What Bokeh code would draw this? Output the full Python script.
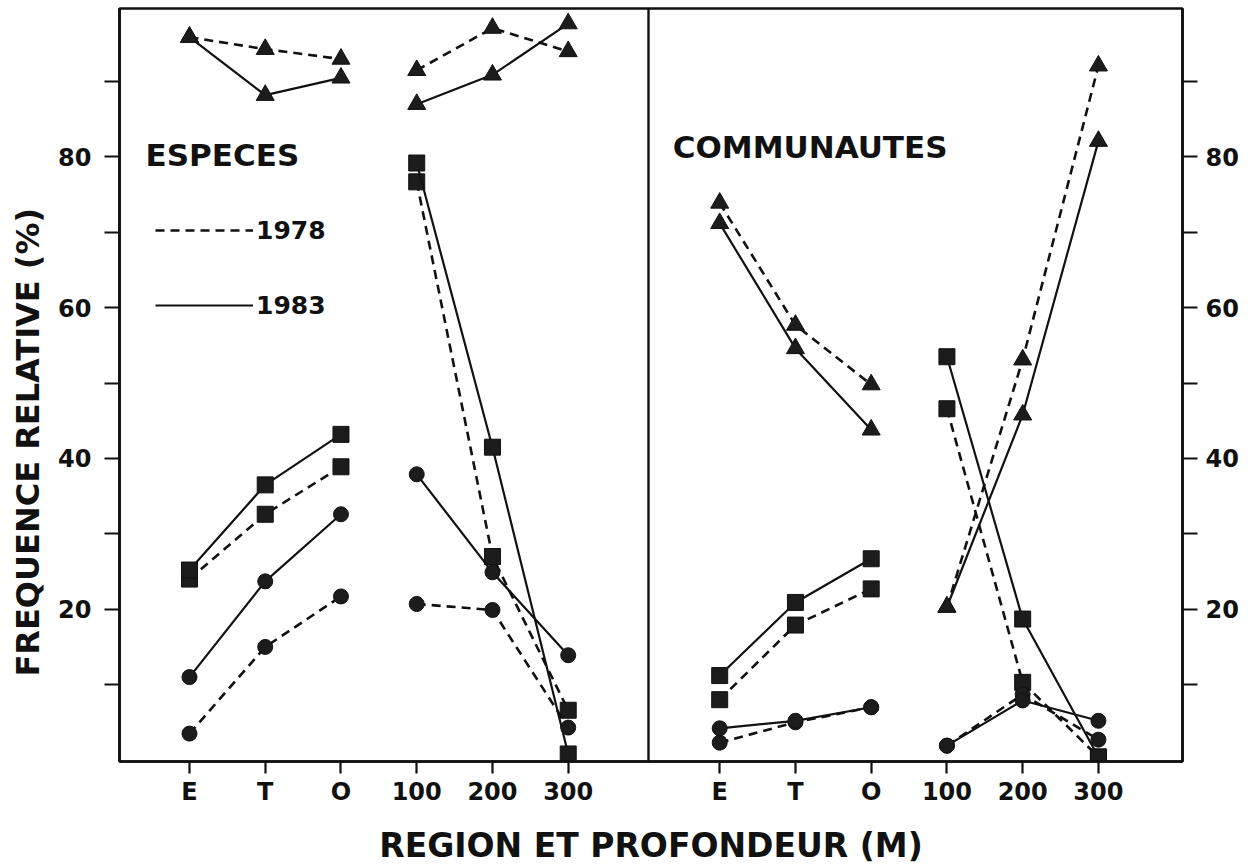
import math
from bokeh.plotting import figure
from bokeh.models import (FixedTicker, LinearAxis, Span, Label, Legend, LegendItem, Range1d, Title)
from bokeh.embed import file_html
from bokeh.resources import INLINE

# ---------------- data ----------------
categories = ["E", "T", "O", "100", "200", "300"]
panels = ["ESPECES", "COMMUNAUTES"]
years = ["1978", "1983"]

especes_tri_1978 = [95.9, 94.3, 93.0, 91.5, 97.1, 94.0]
especes_tri_1983 = [95.9, 88.2, 90.5, 87.0, 90.9, 97.7]
especes_sq_1978 = [24.0, 32.6, 38.9, 76.7, 27.0, 6.6]
especes_sq_1983 = [25.2, 36.5, 43.2, 79.2, 41.5, 0.8]
especes_ci_1978 = [3.5, 15.0, 21.7, 20.7, 19.9, 4.3]
especes_ci_1983 = [11.0, 23.7, 32.6, 37.9, 24.9, 13.9]

communautes_tri_1978 = [73.9, 57.7, 49.8, 20.3, 53.1, 92.1]
communautes_tri_1983 = [71.2, 54.6, 43.8, 20.3, 45.8, 82.1]
communautes_sq_1978 = [8.0, 17.9, 22.7, 46.6, 10.3, 0.4]
communautes_sq_1983 = [11.2, 20.9, 26.7, 53.5, 18.7, 0.4]
communautes_ci_1978 = [2.3, 5.0, 7.0, 1.9, 8.7, 2.7]
communautes_ci_1983 = [4.2, 5.2, 7.0, 1.9, 7.9, 5.2]

y_ticks = [20, 40, 60, 80]
y_minor_ticks = [10, 30, 50, 70, 90]

# ---------------- layout helpers ----------------
FONT = "DejaVu Sans"
INK = "#111111"
n = len(categories)
gap = 1                      # empty slot between the two panels
offsets = [0, n + gap]       # panel start positions on the shared x scale

series = {
    "ESPECES": {
        "triangle": (especes_tri_1978, especes_tri_1983),
        "square": (especes_sq_1978, especes_sq_1983),
        "circle": (especes_ci_1978, especes_ci_1983),
    },
    "COMMUNAUTES": {
        "triangle": (communautes_tri_1978, communautes_tri_1983),
        "square": (communautes_sq_1978, communautes_sq_1983),
        "circle": (communautes_ci_1978, communautes_ci_1983),
    },
}
marker_size = {"triangle": 18, "square": 16, "circle": 15}
dash_for_year = {"1978": "9 6", "1983": "solid"}
width_for_year = {"1978": 2.6, "1983": 2.2}

p = figure(width=1250, height=867, output_backend="svg", toolbar_location=None,
           x_range=Range1d(-0.924, 2 * n + gap - 1 + 1.11), y_range=Range1d(-0.2, 99.7),
           min_border_left=119, min_border_right=68, min_border_top=8, min_border_bottom=100)
p.grid.visible = False
p.outline_line_color = INK
p.outline_line_width = 2.6
p.background_fill_color = "white"
p.border_fill_color = "white"

legend_renderers = {}
for pi_, panel in enumerate(panels):
    off = offsets[pi_]
    for marker, vals_pair in series[panel].items():
        for yi, year in enumerate(years):
            vals = vals_pair[yi]
            # region segment (E,T,O) and depth segment (100,200,300) are drawn separately
            for seg in (range(0, 3), range(3, 6)):
                xs = [off + i for i in seg]
                ys = [vals[i] for i in seg]
                r = p.line(xs, ys, line_color=INK, line_width=width_for_year[year],
                           line_dash=dash_for_year[year])
                if panel == "ESPECES" and marker == "triangle" and seg.start == 0:
                    legend_renderers[year] = r
            p.scatter([off + i for i in range(n)], vals, marker=marker,
                      size=marker_size[marker], fill_color="#1c1c1c", line_color=INK,
                      line_width=1)

# panel divider
p.add_layout(Span(location=n - 1 + (gap + 1) / 2 + 0.06, dimension="height",
                  line_color=INK, line_width=2.4))

# ---------------- axes ----------------
xt = [offsets[k] + i for k in range(2) for i in range(n)]
p.xaxis.ticker = FixedTicker(ticks=xt, minor_ticks=[])
p.xaxis.major_label_overrides = {offsets[k] + i: categories[i] for k in range(2) for i in range(n)}
p.xaxis.axis_label = "REGION ET PROFONDEUR (M)"

p.yaxis.ticker = FixedTicker(ticks=y_ticks, minor_ticks=y_minor_ticks)
right_axis = LinearAxis(ticker=FixedTicker(ticks=y_ticks, minor_ticks=y_minor_ticks))
p.add_layout(right_axis, "right")

for ax in p.xaxis + p.yaxis + [right_axis]:
    ax.axis_line_color = INK
    ax.axis_line_width = 2.6
    ax.major_tick_line_color = INK
    ax.major_tick_line_width = 2.2
    ax.minor_tick_line_color = INK
    ax.minor_tick_line_width = 2.2
    ax.major_tick_in = 0
    ax.minor_tick_in = 0
    ax.major_label_text_font = FONT
    ax.major_label_text_font_style = "bold"
    ax.major_label_text_font_size = "24px"
    ax.major_label_text_color = INK
    ax.axis_label_text_font = FONT
    ax.axis_label_text_font_style = "bold"
    ax.axis_label_text_font_size = "33px"
    ax.axis_label_text_color = INK

for ax in p.yaxis + [right_axis]:
    ax.major_tick_out = 15
    ax.minor_tick_out = 15
p.yaxis.major_label_standoff = 13
right_axis.major_label_standoff = 8

p.xaxis.major_tick_out = 12
p.xaxis.minor_tick_out = 0
p.xaxis.major_label_standoff = 4
p.xaxis.axis_label_standoff = 17

# y axis title (placed lower than centre, as in the original)
p.add_layout(Title(text="FREQUENCE RELATIVE (%)", align="left", offset=85,
                   vertical_align="top", standoff=13, text_font=FONT,
                   text_font_style="bold", text_font_size="32px", text_color=INK), "left")

# panel titles
p.add_layout(Label(x=-0.58, y=80.3, text=panels[0], text_align="left", text_baseline="middle",
                   text_font=FONT, text_font_style="bold", text_font_size="31px", text_color=INK))
p.add_layout(Label(x=offsets[1] - 0.62, y=81.3, text=panels[1], text_align="left",
                   text_baseline="middle", text_font=FONT, text_font_style="bold",
                   text_font_size="31px", text_color=INK))

# legend
legend = Legend(items=[LegendItem(label=y, renderers=[legend_renderers[y]]) for y in years],
                location=(36, 441), orientation="vertical",
                glyph_width=98, glyph_height=30, label_height=30, spacing=45,
                padding=0, margin=0, label_standoff=3,
                label_text_font=FONT, label_text_font_style="bold",
                label_text_font_size="25px", label_text_color=INK,
                border_line_alpha=0, background_fill_alpha=0)
p.add_layout(legend, "center")

open("out.html", "w").write(file_html(p, INLINE))
